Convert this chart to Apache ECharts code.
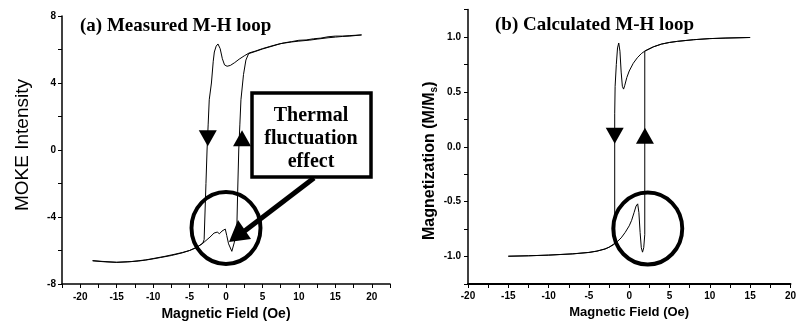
<!DOCTYPE html>
<html>
<head>
<meta charset="utf-8">
<script src="https://cdn.jsdelivr.net/npm/echarts@6/dist/echarts.min.js"></script>
<style>
  html, body { margin: 0; padding: 0; background: #fff; }
  #chart { width: 799px; height: 331px; }
</style>
</head>
<body>
<div id="chart"></div>
<script>
// (a) measured loop, field sweeping down (+H -> -H)
const measuredDown = [
  [18.6, 6.87], [17, 6.83], [16, 6.8], [15, 6.8], [14, 6.76], [13, 6.68], [12, 6.64], [11, 6.57],
  [10, 6.55], [9, 6.47], [8, 6.4], [7, 6.3], [6, 6.18], [5, 6.05], [4, 5.9], [3.2, 5.8],
  [2.5, 5.62], [1.8, 5.42], [1.2, 5.22], [0.6, 5.05], [0.15, 5.0], [-0.2, 5.08], [-0.5, 5.45],
  [-0.8, 6.05], [-1.1, 6.33], [-1.35, 6.2], [-1.6, 5.85], [-1.75, 5.3], [-2.0, 4.0],
  [-2.3, 3.0], [-2.45, 1.5], [-2.6, 0], [-2.75, -2.0], [-2.9, -4.0], [-3.0, -5.35],
  [-3.2, -5.58], [-4, -5.8], [-5, -6.0], [-6, -6.14], [-7.5, -6.3], [-9, -6.42], [-10, -6.5],
  [-11, -6.57], [-12, -6.63], [-13.5, -6.68], [-15, -6.71], [-16.5, -6.68], [-18.3, -6.62]
];
// (a) measured loop, field sweeping up (-H -> +H)
const measuredUp = [
  [-18.3, -6.6], [-17, -6.65], [-15, -6.7], [-13, -6.66], [-11, -6.56], [-10, -6.48],
  [-8.5, -6.36], [-7, -6.22], [-6, -6.12], [-5, -6.0], [-4, -5.82], [-3, -5.5],
  [-2.2, -5.2], [-1.64, -4.96], [-1.2, -4.9], [-0.9, -5.0], [-0.55, -4.84], [-0.3, -4.78],
  [-0.1, -4.72], [0.1, -5.1], [0.35, -5.6], [0.55, -5.7], [0.8, -6.05], [1.0, -5.95],
  [1.15, -5.5], [1.35, -4.8], [1.5, -4.4], [1.6, -2.5], [1.75, 0], [1.9, 1.5], [2.05, 3.0],
  [2.4, 4.5], [2.73, 5.37], [3.1, 5.75], [4, 5.88], [5, 6.03], [6.5, 6.22], [7.5, 6.35],
  [9, 6.45], [10, 6.5], [11.5, 6.56], [12.5, 6.62], [14, 6.7], [15, 6.74], [16, 6.78],
  [17, 6.8], [18.6, 6.87]
];
// (b) calculated loop, field sweeping down
const calcDown = [
  [15, 0.995], [12, 0.99], [10, 0.985], [8, 0.975], [6, 0.96], [5, 0.95], [4, 0.935],
  [3, 0.91], [2, 0.875], [1.5, 0.848], [1, 0.81], [0.5, 0.76], [0, 0.69], [-0.3, 0.63],
  [-0.55, 0.56], [-0.7, 0.525], [-0.85, 0.55], [-1.0, 0.68], [-1.15, 0.87], [-1.3, 0.945],
  [-1.45, 0.9], [-1.6, 0.75], [-1.75, 0.55], [-1.8, 0.3], [-1.8, -0.88], [-2, -0.89],
  [-2.5, -0.915], [-3, -0.93], [-4, -0.95], [-5, -0.962], [-7, -0.975], [-10, -0.987],
  [-12.5, -0.993], [-15, -0.997]
];
// (b) calculated loop, field sweeping up
const calcUp = [
  [-15, -0.997], [-12.5, -0.993], [-10, -0.987], [-7, -0.976], [-5, -0.963], [-4, -0.951],
  [-3, -0.932], [-2.5, -0.915], [-2, -0.895], [-1.5, -0.865], [-1, -0.83], [-0.5, -0.78],
  [0, -0.72], [0.3, -0.67], [0.6, -0.6], [0.85, -0.54], [1.05, -0.52], [1.2, -0.6],
  [1.35, -0.78], [1.5, -0.92], [1.65, -0.96], [1.8, -0.92], [1.93, -0.8], [1.93, 0.87],
  [2, 0.875], [3, 0.91], [4, 0.935], [5, 0.95], [6, 0.96], [8, 0.975], [10, 0.985],
  [12, 0.99], [15, 0.995]
];
// arrow markers and circled regions [x, y] in data units
const arrowsA = { down: [-2.5, 0.7], up: [2.2, 0.7] };
const arrowsB = { down: [-1.8, 0.1], up: [1.95, 0.1] };
const circleA = [0, -4.66];
const circleB = [2.3, -0.745];

const titles = ['(a) Measured M-H loop', '(b) Calculated M-H loop'];
const xName = 'Magnetic Field (Oe)';
const boxLines = ['Thermal', 'fluctuation', 'effect'];

const black = '#000';
const sans = 'Liberation Sans, Arial, sans-serif';
const serif = 'Liberation Serif, Times New Roman, serif';

function markers(arrows, circle) {
  return {
    silent: true,
    label: { show: false },
    itemStyle: { color: black },
    data: [
      { coord: arrows.down, symbol: 'triangle', symbolSize: [18, 16], symbolRotate: 180 },
      { coord: arrows.up, symbol: 'triangle', symbolSize: [18, 16] },
      {
        coord: circle, symbol: 'circle', symbolSize: [69, 72],
        itemStyle: { color: 'rgba(0,0,0,0)', borderColor: black, borderWidth: 4 }
      }
    ]
  }
}

function loopSeries(data, idx, mark) {
  const s = {
    type: 'line',
    data: data,
    xAxisIndex: idx,
    yAxisIndex: idx,
    showSymbol: false,
    symbol: 'none',
    lineStyle: { color: black, width: 1 },
    animation: false,
    z: 3
  }
  if (mark) s.markPoint = mark
  return s
}

const tickLabel = { color: black, fontFamily: sans, fontWeight: 'bold', fontSize: 10 };

const option = {
  backgroundColor: '#fff',
  animation: false,
  title: [
    { text: titles[0], left: 75, top: 12,
      textStyle: { fontFamily: serif, fontWeight: 'bold', fontSize: 19, color: black } },
    { text: titles[1], left: 490, top: 11,
      textStyle: { fontFamily: serif, fontWeight: 'bold', fontSize: 19, color: black } }
  ],
  grid: [
    { left: 62, right: 409, top: 16, bottom: 47 },
    { left: 468, right: 0, top: 9.5, bottom: 47 }
  ],
  xAxis: [
    {
      gridIndex: 0, type: 'value', min: -22.5, max: 22.5, interval: 2.5,
      name: xName, nameLocation: 'middle', nameGap: 20,
      nameTextStyle: { fontFamily: sans, fontWeight: 'bold', fontSize: 14, color: black },
      axisLine: { onZero: false, lineStyle: { color: black, width: 1.5 } },
      axisTick: { length: 4, lineStyle: { color: black } },
      splitLine: { show: false },
      axisLabel: Object.assign({ margin: 8, showMinLabel: true, showMaxLabel: true,
        formatter: v => (v % 5 === 0 ? String(v) : '') }, tickLabel)
    },
    {
      gridIndex: 1, type: 'value', min: -20, max: 20, interval: 2.5,
      name: xName, nameLocation: 'middle', nameGap: 21,
      nameTextStyle: { fontFamily: sans, fontWeight: 'bold', fontSize: 13, color: black },
      axisLine: { onZero: false, lineStyle: { color: black, width: 2 } },
      axisTick: { length: 4, lineStyle: { color: black } },
      splitLine: { show: false },
      axisLabel: Object.assign({ margin: 7, showMinLabel: true, showMaxLabel: true,
        formatter: v => (v % 5 === 0 ? String(v) : '') }, tickLabel)
    }
  ],
  yAxis: [
    {
      gridIndex: 0, type: 'value', min: -8, max: 8, interval: 2,
      name: 'MOKE Intensity', nameLocation: 'middle', nameGap: 30,
      nameTextStyle: { fontFamily: sans, fontSize: 19, color: black, padding: [0, 0, 0, 10] },
      axisLine: { show: true, onZero: false, lineStyle: { color: black, width: 1.5 } },
      axisTick: { show: true, length: 4, lineStyle: { color: black } },
      splitLine: { show: false },
      axisLabel: Object.assign({ margin: 6,
        formatter: v => (v % 4 === 0 ? String(v) : '') }, tickLabel)
    },
    {
      gridIndex: 1, type: 'value', min: -1.25, max: 1.25, interval: 0.25,
      name: '{a|Magnetization (M/M}{s|s}{a|)}', nameLocation: 'middle', nameGap: 29,
      nameTextStyle: {
        color: black,
        padding: [0, 28, 0, 0],
        rich: {
          a: { fontFamily: sans, fontWeight: 'bold', fontSize: 16, color: black },
          s: { fontFamily: sans, fontWeight: 'bold', fontSize: 10, color: black,
               verticalAlign: 'bottom', padding: [9, 0, 0, 0] }
        }
      },
      axisLine: { show: true, onZero: false, lineStyle: { color: black, width: 1.5 } },
      axisTick: { show: true, length: 4, lineStyle: { color: black } },
      splitLine: { show: false },
      axisLabel: Object.assign({ margin: 7,
        formatter: v => (Math.abs(v * 2 - Math.round(v * 2)) < 1e-9 ? v.toFixed(1) : '') }, tickLabel)
    }
  ],
  series: [
    loopSeries(measuredDown, 0, markers(arrowsA, circleA)),
    loopSeries(measuredUp, 0),
    loopSeries(calcDown, 1, markers(arrowsB, circleB)),
    loopSeries(calcUp, 1)
  ],
  graphic: [
    {
      type: 'rect', z: 10,
      shape: { x: 252, y: 93, width: 119, height: 84 },
      style: { fill: '#fff', stroke: black, lineWidth: 3.5 }
    },
    {
      type: 'text', z: 11, x: 311, y: 104,
      style: {
        text: boxLines.join('\n'), fill: black, align: 'center',
        font: 'bold 20px ' + serif, lineHeight: 23
      }
    },
    {
      type: 'line', z: 10,
      shape: { x1: 314, y1: 178, x2: 242, y2: 233 },
      style: { stroke: black, lineWidth: 5 }
    },
    {
      type: 'polygon', z: 10,
      shape: { points: [[229, 242], [251, 239], [238, 220]] },
      style: { fill: black }
    }
  ]
};

const chart = echarts.init(document.getElementById('chart'), null, { renderer: 'canvas' });
chart.setOption(option);
</script>
</body>
</html>
